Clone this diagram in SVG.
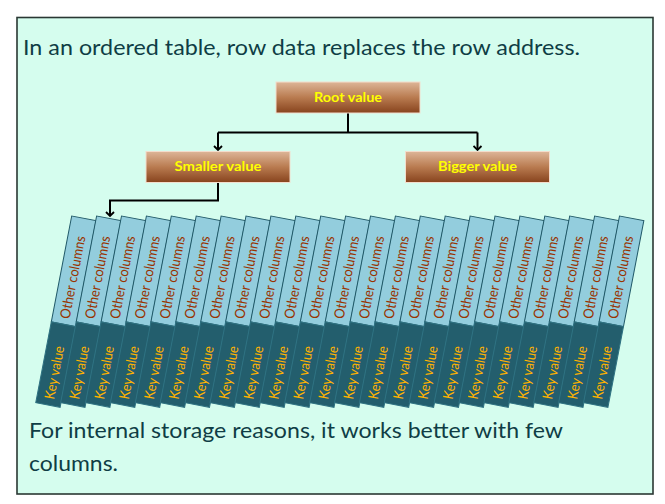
<svg xmlns="http://www.w3.org/2000/svg" width="665" height="504" viewBox="0 0 665 504">
<defs>
<linearGradient id="boxg" x1="0" y1="0" x2="0" y2="1">
<stop offset="0" stop-color="#DDB597"/>
<stop offset="0.5" stop-color="#B97B50"/>
<stop offset="1" stop-color="#87431D"/>
</linearGradient>
<marker id="arr" markerWidth="10" markerHeight="10" refX="5" refY="5" orient="auto" markerUnits="userSpaceOnUse">
<path d="M1,1 L5,5 L1,9" fill="none" stroke="#000" stroke-width="1.8"/>
</marker>
<g id="colshape">
<rect x="0" y="0" width="24.8" height="107.8" fill="#93CDDD" stroke="#215968" stroke-width="1"/>
<rect x="0" y="107.8" width="24.8" height="82.3" fill="#235E6D" stroke="#2F7282" stroke-width="1"/>
<text class="oth" transform="translate(17.5,60) rotate(-90)" text-anchor="middle" textLength="84" lengthAdjust="spacingAndGlyphs">Other columns</text>
<text class="key" transform="translate(17.5,157) rotate(-90)" text-anchor="middle" textLength="54" lengthAdjust="spacingAndGlyphs">Key value</text>
</g>
</defs>
<style>
.big{font-family:Lato,"Liberation Sans",sans-serif;font-size:22px;fill:#0F3D45}
.box{fill:url(#boxg);stroke:#F3DDCC;stroke-width:1}
.lbl{font-family:Lato,"Liberation Sans",sans-serif;font-size:14px;font-weight:bold;fill:#FFFF00}
.oth{font-family:Lato,"Liberation Sans",sans-serif;font-size:14px;fill:#993300}
.key{font-family:Lato,"Liberation Sans",sans-serif;font-size:14px;fill:#FFB300}
.conn{fill:none;stroke:#000;stroke-width:2}
</style>
<rect x="0" y="0" width="665" height="504" fill="#FFFFFF"/>
<rect id="panel" x="17" y="17.5" width="636" height="476.5" fill="#D5FDEE" stroke="#2A3833" stroke-width="1.6"/>
<text id="title" class="big" x="23" y="55" textLength="557" lengthAdjust="spacingAndGlyphs">In an ordered table, row data replaces the row address.</text>

<g id="connectors">
<path class="conn" d="M348,113 V132.5"/>
<path class="conn" d="M218,132.5 H477.5"/>
<path class="conn" d="M218,132.5 V150" marker-end="url(#arr)"/>
<path class="conn" d="M477.5,132.5 V150" marker-end="url(#arr)"/>
<path class="conn" d="M218,183 V200.5 H110 V216" marker-end="url(#arr)"/>
</g>

<g id="root">
<rect class="box" x="276" y="82" width="144" height="31"/>
<text class="lbl" x="348" y="101.5" text-anchor="middle" textLength="68" lengthAdjust="spacingAndGlyphs">Root value</text>
</g>
<g id="smaller">
<rect class="box" x="146" y="151.5" width="144" height="31"/>
<text class="lbl" x="218" y="171" text-anchor="middle" textLength="87" lengthAdjust="spacingAndGlyphs">Smaller value</text>
</g>
<g id="bigger">
<rect class="box" x="405.5" y="151.5" width="144" height="31"/>
<text class="lbl" x="477.5" y="171" text-anchor="middle" textLength="79" lengthAdjust="spacingAndGlyphs">Bigger value</text>
</g>

<g id="columns">
<g id="col1" transform="translate(71.7,216) rotate(10.9)"><use href="#colshape"/></g>
<g id="col2" transform="translate(96.6,216) rotate(10.9)"><use href="#colshape"/></g>
<g id="col3" transform="translate(121.5,216) rotate(10.9)"><use href="#colshape"/></g>
<g id="col4" transform="translate(146.4,216) rotate(10.9)"><use href="#colshape"/></g>
<g id="col5" transform="translate(171.3,216) rotate(10.9)"><use href="#colshape"/></g>
<g id="col6" transform="translate(196.2,216) rotate(10.9)"><use href="#colshape"/></g>
<g id="col7" transform="translate(221.1,216) rotate(10.9)"><use href="#colshape"/></g>
<g id="col8" transform="translate(246,216) rotate(10.9)"><use href="#colshape"/></g>
<g id="col9" transform="translate(270.9,216) rotate(10.9)"><use href="#colshape"/></g>
<g id="col10" transform="translate(295.8,216) rotate(10.9)"><use href="#colshape"/></g>
<g id="col11" transform="translate(320.7,216) rotate(10.9)"><use href="#colshape"/></g>
<g id="col12" transform="translate(345.6,216) rotate(10.9)"><use href="#colshape"/></g>
<g id="col13" transform="translate(370.5,216) rotate(10.9)"><use href="#colshape"/></g>
<g id="col14" transform="translate(395.4,216) rotate(10.9)"><use href="#colshape"/></g>
<g id="col15" transform="translate(420.3,216) rotate(10.9)"><use href="#colshape"/></g>
<g id="col16" transform="translate(445.2,216) rotate(10.9)"><use href="#colshape"/></g>
<g id="col17" transform="translate(470.1,216) rotate(10.9)"><use href="#colshape"/></g>
<g id="col18" transform="translate(495,216) rotate(10.9)"><use href="#colshape"/></g>
<g id="col19" transform="translate(519.9,216) rotate(10.9)"><use href="#colshape"/></g>
<g id="col20" transform="translate(544.8,216) rotate(10.9)"><use href="#colshape"/></g>
<g id="col21" transform="translate(569.7,216) rotate(10.9)"><use href="#colshape"/></g>
<g id="col22" transform="translate(594.6,216) rotate(10.9)"><use href="#colshape"/></g>
<g id="col23" transform="translate(619.5,216) rotate(10.9)"><use href="#colshape"/></g>
</g>

<text id="note1" class="big" x="29" y="438" textLength="534" lengthAdjust="spacingAndGlyphs">For internal storage reasons, it works better with few</text>
<text id="note2" class="big" x="29" y="471" textLength="89" lengthAdjust="spacingAndGlyphs">columns.</text>
</svg>
